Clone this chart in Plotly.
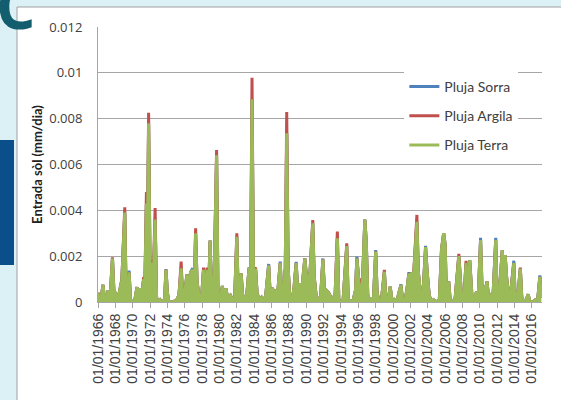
import plotly.graph_objects as go

# monthly dates (only the months that shape the curve), values in mm/dia
dates = [
    "1966-01", "1966-03", "1966-05", "1966-08", "1966-10", "1966-12",
    "1967-03", "1967-06", "1967-09", "1967-11",
    "1968-01", "1968-04", "1968-07", "1968-10",
    "1969-02", "1969-04", "1969-06", "1969-08", "1969-10",
    "1970-01", "1970-04", "1970-07", "1970-09", "1970-11",
    "1971-01", "1971-04", "1971-06", "1971-08", "1971-09", "1971-11",
    "1972-01", "1972-03", "1972-05", "1972-08", "1972-10", "1972-12",
    "1973-03", "1973-06", "1973-09", "1973-11",
    "1974-01", "1974-03", "1974-08",
    "1975-02", "1975-05", "1975-08", "1975-10",
    "1976-01", "1976-04", "1976-06", "1976-09", "1976-12",
    "1977-02", "1977-04", "1977-06", "1977-09", "1977-12",
    "1978-03", "1978-05", "1978-08", "1978-10", "1978-12",
    "1979-02", "1979-05", "1979-09", "1979-11",
    "1980-02", "1980-05", "1980-07", "1980-10", "1980-12",
    "1981-04", "1981-07", "1981-10",
    "1982-01", "1982-03", "1982-07", "1982-09", "1982-12",
    "1983-03", "1983-06", "1983-08", "1983-10", "1983-12",
    "1984-03", "1984-05", "1984-08", "1984-11",
    "1985-02", "1985-05", "1985-09", "1985-11",
    "1986-02", "1986-05", "1986-08", "1986-10",
    "1987-01", "1987-03", "1987-06", "1987-08", "1987-10", "1987-12",
    "1988-02", "1988-05", "1988-08", "1988-11",
    "1989-01", "1989-04", "1989-07", "1989-11",
    "1990-01", "1990-04", "1990-06", "1990-10", "1990-12",
    "1991-03", "1991-06", "1991-09", "1991-12",
    "1992-02", "1992-05", "1992-08", "1992-11",
    "1993-02", "1993-05", "1993-08", "1993-10",
    "1994-01", "1994-04", "1994-09", "1994-11",
    "1995-03", "1995-06", "1995-09", "1995-11",
    "1996-02", "1996-04", "1996-06", "1996-10", "1996-12",
    "1997-02", "1997-06", "1997-10",
    "1998-01", "1998-03", "1998-06", "1998-09",
    "1999-01", "1999-03", "1999-06", "1999-09", "1999-12",
    "2000-03", "2000-06", "2000-09", "2000-12",
    "2001-02", "2001-05", "2001-08", "2001-11",
    "2002-01", "2002-03", "2002-05", "2002-10", "2002-12",
    "2003-03", "2003-06", "2003-10", "2003-12",
    "2004-03", "2004-06", "2004-09",
    "2005-01", "2005-05", "2005-08", "2005-11",
    "2006-01", "2006-03", "2006-06", "2006-08", "2006-12",
    "2007-03", "2007-08", "2007-10", "2007-12",
    "2008-03", "2008-06", "2008-08", "2008-11",
    "2009-02", "2009-05", "2009-08", "2009-11",
    "2010-02", "2010-04", "2010-07", "2010-09", "2010-11",
    "2011-01", "2011-04", "2011-07", "2011-11",
    "2012-01", "2012-04", "2012-08", "2012-10", "2012-12",
    "2013-02", "2013-05", "2013-07", "2013-12",
    "2014-02", "2014-05", "2014-09", "2014-11",
    "2015-02", "2015-05", "2015-08", "2015-10",
    "2016-02", "2016-06", "2016-09", "2016-12",
    "2017-02",
]

pluja_terra = [
    0.0004, 0.0, 0.0001, 0.00075, 0.0001, 0.0,
    0.0005, 0.0003, 0.0019, 0.0005,
    0.0004, 0.0, 0.0005, 0.00095,
    0.0039, 0.0002, 0.0, 0.0013, 0.0001,
    0.0, 0.0001, 0.00065, 0.0002, 0.0006,
    0.0002, 0.00095, 0.001, 0.0043, 0.0015, 0.0078,
    0.0015, 0.0017, 0.0004, 0.0036, 0.0002, 0.0,
    0.0001, 0.0, 0.0001, 0.0014,
    0.0004, 0.0, 0.0,
    0.0001, 0.0003, 0.00147, 0.0003,
    0.0004, 0.0012, 0.0005, 0.0013, 0.0014,
    0.0005, 0.003, 0.0009, 0.0002, 0.0001,
    0.0014, 0.0004, 0.0014, 0.0005, 0.00268,
    0.0004, 0.0, 0.0064, 0.0002,
    0.0001, 0.0007, 0.0002, 0.0006, 0.0002,
    0.0003, 0.0001, 0.0002,
    0.00285, 0.0002, 0.00125, 0.0003, 0.0001,
    0.0004, 0.0015, 0.0008, 0.00885, 0.0014,
    0.0014, 0.0004, 0.0001, 0.0002,
    0.0, 0.0003, 0.0016, 0.0004,
    0.0006, 0.0004, 0.0005, 0.0006,
    0.0017, 0.0003, 0.0006, 0.0015, 0.00736, 0.0015,
    0.0003, 0.0, 0.0006, 0.0017,
    0.0006, 0.0008, 0.0006, 0.0019,
    0.0012, 0.001, 0.0012, 0.00343, 0.0011,
    0.0002, 0.0, 0.0003, 0.00185,
    0.0006, 0.0005, 0.0004, 0.0002,
    0.0001, 0.0004, 0.00278, 0.0001,
    0.0, 0.0001, 0.00244, 0.0001,
    0.0, 0.0001, 0.0005, 0.0019,
    0.0008, 0.0007, 0.0003, 0.0036, 0.0026,
    0.0003, 0.0, 0.0002,
    0.0022, 0.0004, 0.0, 0.0001,
    0.00132, 0.0002, 0.0, 0.00067, 0.0,
    0.0001, 0.0, 0.0004, 0.00074,
    0.0001, 0.0, 0.0005, 0.00125,
    0.0008, 0.0013, 0.0009, 0.0035, 0.0013,
    0.0004, 0.0001, 0.0024, 0.0014,
    0.0003, 0.0, 0.0001,
    0.0, 0.0001, 0.0023, 0.003,
    0.0025, 0.0002, 0.0009, 0.0001, 0.0,
    0.0002, 0.002, 0.0011, 0.0001,
    0.0002, 0.0017, 0.0001, 0.00183,
    0.0003, 0.0001, 0.0004, 0.0004,
    0.0027, 0.0007, 0.0006, 0.0006, 0.0009,
    0.0002, 0.0003, 0.0001, 0.0027,
    0.0001, 0.0004, 0.00227, 0.0012, 0.00205,
    0.0011, 0.0002, 0.0002, 0.0017,
    0.0001, 0.0001, 0.00145, 0.0002,
    0.0, 0.0001, 0.00034, 0.0,
    0.0, 0.0001, 0.0001, 0.0011,
    0.0002,
]

pluja_argila = [
    0.0004, 0.0, 0.0001, 0.00075, 0.0001, 0.0,
    0.0005, 0.0003, 0.00195, 0.0005,
    0.0004, 0.0, 0.0005, 0.00095,
    0.00413, 0.0002, 0.0, 0.0013, 0.0001,
    0.0, 0.0001, 0.00065, 0.0002, 0.0006,
    0.0002, 0.00102, 0.001, 0.0048, 0.0015, 0.00826,
    0.0015, 0.00186, 0.0004, 0.0041, 0.0002, 0.0,
    0.0001, 0.0, 0.0001, 0.0014,
    0.0004, 0.0, 0.0,
    0.0001, 0.0003, 0.00176, 0.0003,
    0.0004, 0.0012, 0.0005, 0.0013, 0.0014,
    0.0005, 0.00322, 0.0009, 0.0002, 0.0001,
    0.0015, 0.0004, 0.0015, 0.0005, 0.00268,
    0.0004, 0.0, 0.00663, 0.0002,
    0.0001, 0.0007, 0.0002, 0.0006, 0.0002,
    0.0003, 0.0001, 0.0002,
    0.003, 0.0002, 0.00125, 0.0003, 0.0001,
    0.0004, 0.0015, 0.0008, 0.00979, 0.0014,
    0.0015, 0.0004, 0.0001, 0.0002,
    0.0, 0.0003, 0.0016, 0.0004,
    0.0006, 0.0004, 0.0005, 0.0006,
    0.0017, 0.0003, 0.0006, 0.0015, 0.00829, 0.0015,
    0.0003, 0.0, 0.0006, 0.0017,
    0.0006, 0.0008, 0.0006, 0.0019,
    0.0012, 0.001, 0.0012, 0.00358, 0.0011,
    0.0002, 0.0, 0.0003, 0.00185,
    0.0006, 0.0005, 0.0004, 0.0002,
    0.0001, 0.0004, 0.00307, 0.0001,
    0.0, 0.0001, 0.00256, 0.0001,
    0.0, 0.0001, 0.0005, 0.0019,
    0.0008, 0.00103, 0.0003, 0.0036, 0.0026,
    0.0003, 0.0, 0.0002,
    0.0022, 0.0004, 0.0, 0.0001,
    0.0014, 0.0002, 0.0, 0.00067, 0.0,
    0.0001, 0.0, 0.0004, 0.00074,
    0.0001, 0.0, 0.0005, 0.00125,
    0.0008, 0.0013, 0.0009, 0.0038, 0.0013,
    0.0004, 0.0001, 0.0024, 0.0014,
    0.0003, 0.0, 0.0001,
    0.0, 0.0001, 0.0023, 0.003,
    0.0025, 0.0002, 0.0009, 0.0001, 0.0,
    0.0002, 0.0021, 0.0011, 0.0001,
    0.0002, 0.0018, 0.0001, 0.00183,
    0.0003, 0.0001, 0.0004, 0.0004,
    0.0027, 0.0007, 0.0006, 0.0006, 0.0009,
    0.0002, 0.0003, 0.0001, 0.0027,
    0.0001, 0.0004, 0.00227, 0.0012, 0.00205,
    0.0011, 0.0002, 0.0002, 0.0017,
    0.0001, 0.0001, 0.0015, 0.0002,
    0.0, 0.0001, 0.00034, 0.0,
    0.0, 0.0001, 0.0001, 0.0011,
    0.0002,
]

pluja_sorra = [
    0.0004, 0.0, 0.0001, 0.00075, 0.0001, 0.0,
    0.0005, 0.0003, 0.0019, 0.0005,
    0.0004, 0.0, 0.0005, 0.001,
    0.0039, 0.0002, 0.0, 0.00137, 0.0001,
    0.0, 0.0001, 0.00065, 0.0002, 0.0006,
    0.0002, 0.00095, 0.001, 0.0043, 0.0015, 0.0078,
    0.0015, 0.0017, 0.0004, 0.0036, 0.0002, 0.0,
    0.0001, 0.0, 0.0001, 0.00144,
    0.0004, 0.0, 0.0,
    0.0001, 0.0003, 0.00147, 0.0003,
    0.0004, 0.0012, 0.0005, 0.0013, 0.00147,
    0.0005, 0.003, 0.0009, 0.0002, 0.0001,
    0.0014, 0.0004, 0.0014, 0.0005, 0.00268,
    0.0004, 0.0, 0.0064, 0.0002,
    0.0001, 0.0007, 0.0002, 0.0006, 0.0002,
    0.0003, 0.0001, 0.0002,
    0.00285, 0.0002, 0.00125, 0.0003, 0.0001,
    0.0004, 0.0015, 0.0008, 0.00885, 0.0014,
    0.0014, 0.0004, 0.0001, 0.0002,
    0.0, 0.0003, 0.00166, 0.0004,
    0.0006, 0.0004, 0.0005, 0.0006,
    0.00176, 0.0003, 0.0006, 0.0015, 0.00736, 0.0015,
    0.0003, 0.0, 0.0006, 0.00175,
    0.0006, 0.0008, 0.0006, 0.0019,
    0.0012, 0.001, 0.0012, 0.00343, 0.0011,
    0.0002, 0.0, 0.0003, 0.0019,
    0.0006, 0.0005, 0.0004, 0.0002,
    0.0001, 0.0004, 0.00278, 0.0001,
    0.0, 0.0001, 0.00244, 0.0001,
    0.0, 0.0001, 0.0005, 0.00198,
    0.0008, 0.0007, 0.0003, 0.0036, 0.0026,
    0.0003, 0.0, 0.0002,
    0.00227, 0.0004, 0.0, 0.0001,
    0.00132, 0.0002, 0.0, 0.00067, 0.0,
    0.0001, 0.0, 0.0004, 0.00077,
    0.0001, 0.0, 0.0005, 0.0013,
    0.0008, 0.0013, 0.0009, 0.0035, 0.0013,
    0.0004, 0.0001, 0.00245, 0.0014,
    0.0003, 0.0, 0.0001,
    0.0, 0.0001, 0.0023, 0.003,
    0.0025, 0.0002, 0.0009, 0.0001, 0.0,
    0.0002, 0.002, 0.0011, 0.0001,
    0.0002, 0.0017, 0.0001, 0.00183,
    0.0003, 0.0001, 0.0004, 0.0004,
    0.0028, 0.0007, 0.0006, 0.0006, 0.0009,
    0.0002, 0.0003, 0.0001, 0.0028,
    0.0001, 0.0004, 0.00227, 0.0012, 0.00205,
    0.0011, 0.0002, 0.0002, 0.0018,
    0.0001, 0.0001, 0.00145, 0.0002,
    0.0, 0.0001, 0.00034, 0.0,
    0.0, 0.0001, 0.0001, 0.00116,
    0.0002,
]

BLUE = "#4F81BD"
RED = "#C0504D"
GREEN = "#9BBB59"
GRID = "#A6A6A6"

fig = go.Figure()
fig.add_trace(go.Scatter(x=dates, y=pluja_sorra, mode="lines", name="Pluja Sorra",
                         legendgroup="s", line=dict(color=BLUE, width=3)))
fig.add_trace(go.Scatter(x=dates, y=pluja_argila, mode="lines", name="Pluja Argila",
                         legendgroup="a", line=dict(color=RED, width=3)))
# the dense monthly line reads as a filled area, so fill under terra
fig.add_trace(go.Scatter(x=dates, y=pluja_terra, mode="lines", fill="tozeroy",
                         fillcolor=GREEN, line=dict(color=GREEN, width=0),
                         legendgroup="t", showlegend=False, hoverinfo="skip"))
fig.add_trace(go.Scatter(x=dates, y=pluja_terra, mode="lines", name="Pluja Terra",
                         legendgroup="t", line=dict(color=GREEN, width=3)))

# frame: white panel, blue side tab and the panel letter
fig.add_shape(type="rect", xref="paper", yref="paper",
              x0=-0.1824, x1=1.1, y0=-0.4, y1=1.0727,
              fillcolor="white", line=dict(color="#A0A0A0", width=1), layer="below")
fig.add_shape(type="rect", xref="paper", yref="paper",
              x0=-0.23, x1=-0.1892, y0=0.1345, y1=0.5891,
              fillcolor="#0B4F8A", line=dict(width=0), layer="below")
fig.add_annotation(text="<b>C</b>", xref="paper", yref="paper", x=-0.1847, y=1.08,
                   xanchor="center", yanchor="middle", showarrow=False,
                   font=dict(family="Open Sans", size=62, color="#125E6E"))

fig.update_layout(
    width=561, height=400,
    margin=dict(l=98, r=19, t=27, b=98),
    paper_bgcolor="#DCF1F6",
    plot_bgcolor="white",
    showlegend=True,
    legend=dict(x=0.69, y=0.84, xanchor="left", yanchor="top",
                bgcolor="white", traceorder="grouped", tracegroupgap=8,
                font=dict(family="Lato", size=14, color="#404040")),
    xaxis=dict(type="date", range=["1966-01-01", "2017-03-01"],
               tick0="1966-01-01", dtick="M24", tickformat="%d/%m/%Y",
               tickangle=-90, ticks="outside", ticklen=5, tickcolor=GRID,
               showline=True, linecolor=GRID, showgrid=False, zeroline=False,
               tickfont=dict(family="Liberation Sans", size=14, color="#404040")),
    yaxis=dict(range=[0, 0.012], dtick=0.002, showgrid=True, gridcolor=GRID,
               showline=True, linecolor=GRID, zeroline=False, ticks="",
               ticklabelstandoff=12,
               tickfont=dict(family="Open Sans", size=13, color="#404040"),
               title=dict(text="<b>Entrada sòl (mm/dia)</b>", standoff=3,
                          font=dict(family="Lato", size=13, color="#202020"))),
)

# drop the page's default body margin so the figure sits at the window corner
fig.write_html("out.html", config={"displayModeBar": False},
               post_script="document.body.style.margin='0';")
